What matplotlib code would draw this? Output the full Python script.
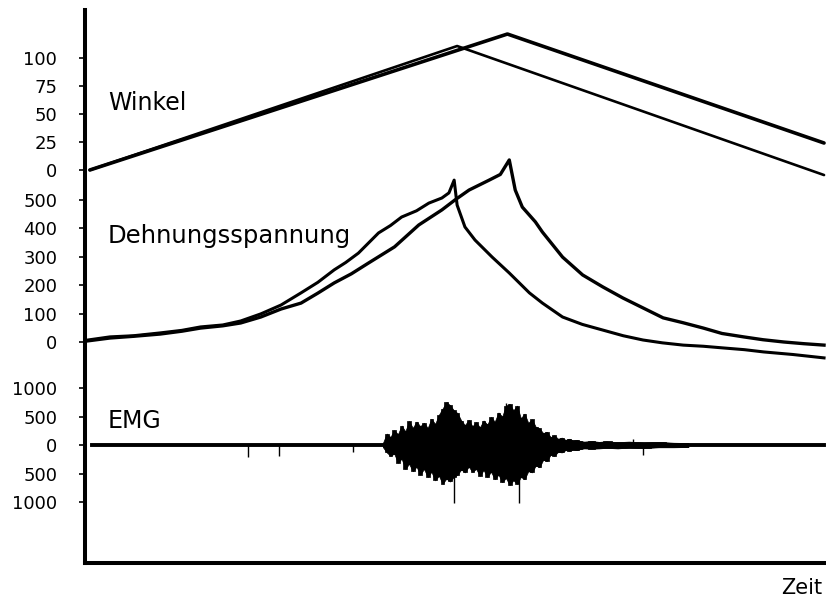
import numpy as np
import matplotlib
matplotlib.use("Agg")
import matplotlib.pyplot as plt

plt.rcParams['font.family'] = ['DejaVu Sans']

# Winkel (Grad) ueber Zeit (s), zwei Versuche
winkel1_t = [0.13, 9.99, 19.84]
winkel1 = [0, 110.7, -4.5]
winkel2_t = [0.13, 11.34, 19.84]
winkel2 = [0, 121.4, 24.1]

# Dehnungsspannung, Versuch 1 (fruehes Maximum) und Versuch 2
dehn1_t = [0.08, 0.67, 1.30, 2.02, 2.60, 3.10, 3.70, 4.18, 4.72, 5.26, 5.80, 6.25, 6.69,
           7.00, 7.34, 7.88, 8.20, 8.50, 8.90, 9.23, 9.58, 9.77, 9.91, 9.99, 10.20,
           10.47, 10.93, 11.39, 11.93, 12.28, 12.82, 13.35, 13.90, 14.45, 14.98,
           15.50, 16.06, 16.60, 17.14, 17.70, 18.22, 19.00, 19.84]
dehn1 = [7, 18, 22, 32, 41, 53, 60, 74, 99, 130, 173, 210, 254,
         280, 313, 384, 410, 440, 462, 489, 507, 525, 570, 482, 405,
         359, 299, 243, 173, 137, 88, 62, 42, 22, 7,
         -3, -11, -15, -21, -27, -35, -44, -56]
dehn2_t = [0.08, 0.67, 1.30, 2.02, 2.60, 3.10, 3.70, 4.18, 4.72, 5.26, 5.80, 6.25, 6.69,
           7.15, 7.61, 8.31, 8.96, 9.58, 9.93, 10.31, 10.85, 11.15, 11.39, 11.55, 11.74,
           12.09, 12.28, 12.82, 13.36, 13.90, 14.44, 14.98, 15.52, 16.05, 16.60,
           17.10, 17.68, 18.20, 18.76, 19.30, 19.84]
dehn2 = [4, 14, 20, 28, 38, 49, 57, 67, 88, 116, 137, 172, 208,
         240, 278, 335, 412, 465, 500, 535, 570, 590, 641, 535, 475,
         423, 387, 299, 236, 194, 155, 120, 85, 68, 49,
         30, 18, 8, 0, -6, -11]

# EMG: Aktivitaet oben / unten waehrend und nach der Dehnung
emg_t = [8.0, 8.1, 8.2, 8.3, 8.4, 8.5, 8.6, 8.7, 8.8, 8.9, 9.0, 9.1, 9.2, 9.3,
         9.4, 9.5, 9.6, 9.7, 9.8, 9.9, 10.0, 10.1, 10.2, 10.3, 10.4, 10.5, 10.6,
         10.7, 10.8, 10.9, 11.0, 11.1, 11.2, 11.3, 11.4, 11.5, 11.6, 11.7, 11.8,
         11.9, 12.0, 12.1, 12.2, 12.3, 12.4, 12.5, 12.6, 12.7, 12.8, 12.9, 13.0,
         13.1, 13.2, 13.3, 13.4, 13.6, 13.8, 14.0, 14.3, 14.6, 15.0, 15.4, 15.8, 16.2]
emg_hi = [40, 200, 140, 260, 190, 340, 240, 420, 300, 410, 330, 390, 300, 460,
          370, 530, 640, 750, 700, 610, 560, 430, 350, 440, 330, 400, 310,
          430, 360, 490, 410, 570, 500, 690, 720, 610, 690, 470, 550,
          390, 450, 320, 290, 210, 230, 140, 170, 110, 130, 90, 110,
          80, 90, 70, 60, 70, 55, 65, 50, 60, 45, 55, 40, 35]
emg_lo = [-40, -130, -190, -150, -310, -240, -420, -330, -460, -380, -520, -420, -560, -470,
          -620, -540, -680, -590, -640, -560, -520, -430, -480, -380, -470, -420, -540,
          -440, -560, -470, -600, -520, -650, -580, -700, -620, -680, -560, -600,
          -460, -480, -360, -390, -260, -280, -170, -190, -120, -130, -90, -100,
          -80, -90, -70, -60, -65, -60, -50, -60, -45, -55, -40, -40, -35]
emg_span = [0.19, 19.84]
spike_t = [9.91, 11.66, 9.72, 11.30, 4.37, 5.21, 7.20, 14.71, 14.98]
spike_v = [-1020, -1020, 760, 730, -210, -200, -120, 100, -175]

W, H = 826, 598
fig = plt.figure(figsize=(W / 100, H / 100), dpi=100)
rect = [85 / W, 35 / H, 745 / W, 553 / H]

# Rahmen mit linker und unterer Achse
frame = fig.add_axes(rect)
frame.set_xlim(0, 20)
frame.set_xticks([])
frame.set_yticks([])
for s in ('top', 'right'):
    frame.spines[s].set_visible(False)
for s in ('left', 'bottom'):
    frame.spines[s].set_linewidth(2.9)
frame.patch.set_alpha(0)


def kanal(ylim, ticks, labels):
    ax = fig.add_axes(rect)
    ax.patch.set_alpha(0)
    for s in ax.spines.values():
        s.set_visible(False)
    ax.set_xlim(0, 20)
    ax.set_ylim(*ylim)
    ax.set_xticks([])
    ax.set_yticks(ticks)
    ax.set_yticklabels(labels)
    ax.tick_params(axis='y', length=4, width=1.2, pad=16, labelsize=13)
    return ax


ax1 = kanal((-350.9, 142.86), [0, 25, 50, 75, 100], ['0', '25', '50', '75', '100'])
ax1.plot(winkel1_t, winkel1, color='black', lw=1.9, solid_capstyle='round')
ax1.plot(winkel2_t, winkel2, color='black', lw=2.6, solid_capstyle='round')

ax2 = kanal((-778.2, 1169.0), [0, 100, 200, 300, 400, 500],
            ['0', '100', '200', '300', '400', '500'])
ax2.plot(dehn1_t, dehn1, color='black', lw=2.2, solid_joinstyle='round')
ax2.plot(dehn2_t, dehn2, color='black', lw=2.4, solid_joinstyle='round')

ax3 = kanal((-2070, 7632), [-1000, -500, 0, 500, 1000],
            ['1000', '500', '0', '500', '1000'])
ax3.plot(emg_span, [0, 0], color='black', lw=2.8)
# dichter Kern plus kantige Spitzen
ax3.fill_between(emg_t, emg_lo, emg_hi, color='black', lw=0.5)
ax3.fill_between(emg_t, emg_lo, emg_hi, step='mid', color='black', lw=0.5)
ax3.vlines(spike_t, 0, spike_v, color='black', lw=1.0)

fig.text(108 / W, 1 - 110 / H, 'Winkel', fontsize=17, va='baseline')
fig.text(108 / W, 1 - 243 / H, 'Dehnungsspannung', fontsize=17.5, va='baseline')
fig.text(108 / W, 1 - 428 / H, 'EMG', fontsize=17, va='baseline')
fig.text(822 / W, 1 - 594 / H, 'Zeit', fontsize=15, ha='right', va='baseline')

fig.savefig('out.png', dpi=100)
